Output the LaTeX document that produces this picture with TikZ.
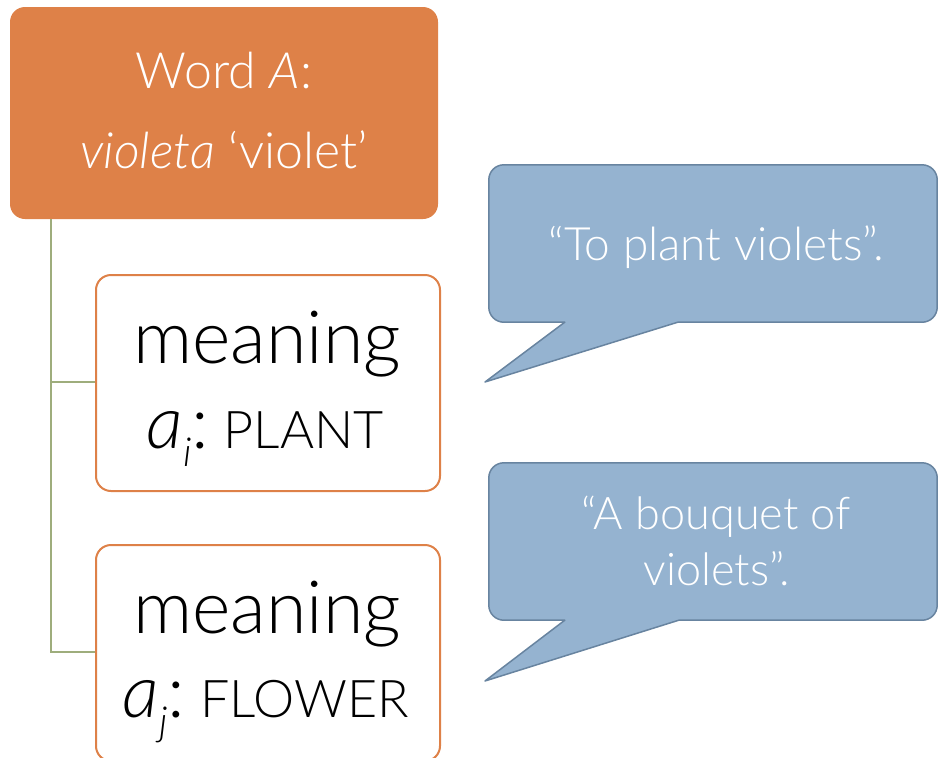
\documentclass[tikz,border=0pt]{standalone}
\usepackage{fontspec}
\setmainfont{Lato}[UprightFont=* Light, ItalicFont=* Light Italic]
\usetikzlibrary{calc}
\definecolor{orangeA}{RGB}{222,129,72}
\definecolor{treeline}{RGB}{158,173,124}
\definecolor{calloutfill}{RGB}{149,179,208}
\definecolor{calloutdraw}{RGB}{104,132,160}
\begin{document}
\begin{tikzpicture}[x=1pt,y=-1pt,
 wordbox/.style={draw=none, fill=orangeA, rounded corners=15pt, minimum width=428pt, minimum height=212pt, inner sep=0pt},
 meanbox/.style={draw=orangeA, line width=2pt, fill=white, rounded corners=15pt, minimum width=344pt, minimum height=216pt, inner sep=0pt},
 callbox/.style={minimum width=448pt, minimum height=157pt, inner sep=0pt},
 callout/.style={fill=calloutfill, draw=calloutdraw, line width=1.5pt, line join=round},
 tree/.style={draw=treeline, line width=2pt},
 wtext/.style={text=white, font=\fontsize{50}{50}\selectfont, anchor=base, inner sep=0pt},
 mtext/.style={text=black, font=\fontsize{73.5}{73.5}\selectfont, anchor=base, inner sep=0pt},
 ctexta/.style={text=white, font=\fontsize{46}{46}\selectfont, anchor=base, inner sep=0pt},
 ctextb/.style={text=white, font=\fontsize{45}{45}\selectfont, anchor=base, inner sep=0pt},
]
\useasboundingbox (0,0) rectangle (938,758);

% tree lines
\coordinate (t0) at (51,219);

% word box
\node[wordbox] (word) at (224,113) {};
\node[wtext] (w1) at (224,88) {Word \textit{A}:};
\node[wtext] (w2) at (224,168) {\textit{violeta} ‘violet’};

% meaning boxes
\draw[tree] (t0) |- (267,382);
\draw[tree] (t0) |- (267,652);
\node[meanbox] (m1) at (268,383) {};
\node[mtext] (m1a) at (267,363) {meaning};
\node[mtext] (m1b) at (265,448) {\textit{a}\raisebox{-0.25em}{\fontsize{40}{40}\selectfont\textit{i}}:\hspace{0.2em}{\fontsize{52}{52}\selectfont PLANT}};

\node[meanbox] (m2) at (268,653) {};
\node[mtext] (m2a) at (267,633) {meaning};
\node[mtext] (m2b) at (266,717) {\textit{a}\raisebox{-0.25em}{\fontsize{40}{40}\selectfont\textit{j}}:\hspace{0.2em}{\fontsize{52}{52}\selectfont FLOWER}};

% callout 1
\node[callbox] (c1) at (713,243.5) {};
\coordinate (tip1) at (485,382);
\draw[callout] ($(c1.south west)+(76,0)$) -- (tip1) -- ($(c1.south west)+(189,0)$)
  [rounded corners=15pt] -- (c1.south east) -- (c1.north east) -- (c1.north west) -- (c1.south west) [sharp corners] -- cycle;
\node[ctexta] (c1t) at (716,260) {“To plant violets”.};

% callout 2
\node[callbox] (c2) at (713,541.5) {};
\coordinate (tip2) at (485,681);
\draw[callout] ($(c2.south west)+(76,0)$) -- (tip2) -- ($(c2.south west)+(190,0)$)
  [rounded corners=15pt] -- (c2.south east) -- (c2.north east) -- (c2.north west) -- (c2.south west) [sharp corners] -- cycle;
\node[ctextb] (c2t1) at (716,529) {“A bouquet of};
\node[ctextb] (c2t2) at (717,585) {violets”.};
\end{tikzpicture}
\end{document}
